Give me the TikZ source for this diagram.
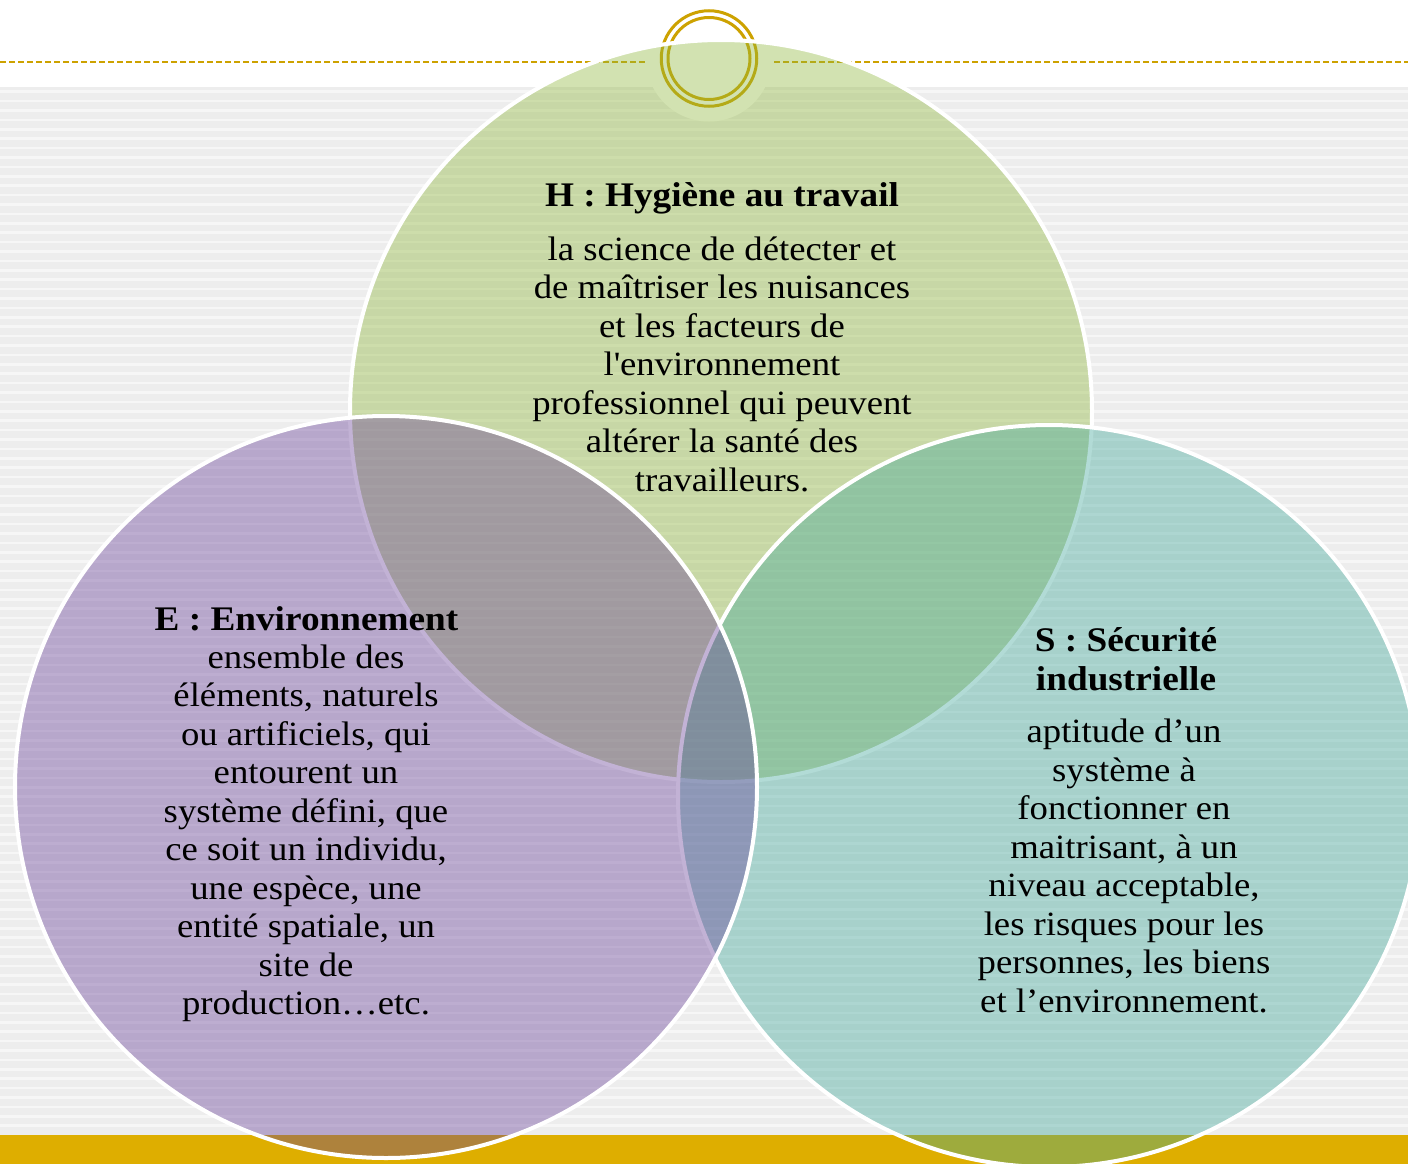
\documentclass[tikz,border=0pt]{standalone}
\usepackage{fontspec}
\setmainfont[FakeStretch=1.08]{Liberation Serif}
\definecolor{bggray}{RGB}{237,237,237}
\definecolor{bgline}{RGB}{246,246,246}
\definecolor{goldbar}{RGB}{222,174,0}
\definecolor{goldline}{RGB}{205,162,0}
\definecolor{hgreen}{RGB}{144,184,60}
\definecolor{epurple}{RGB}{104,64,152}
\definecolor{steal}{RGB}{64,167,154}
\begin{document}
\begin{tikzpicture}[x=1pt,y=-1pt,
  venn/.style={circle, inner sep=0pt, minimum size=742pt, draw=white, line width=4pt, fill opacity=0.4},
  ringst/.style={circle, inner sep=0pt, draw=goldline, line width=3pt},
  ttl/.style={font=\fontsize{34.5}{38.5}\selectfont\bfseries, align=center, anchor=base, inner sep=0pt},
  body/.style={font=\fontsize{34}{38.5}\selectfont, align=center, anchor=base, inner sep=0pt},
]
\useasboundingbox (0,0) rectangle (1408,1164);
\fill[white] (0,0) rectangle (1408,1164);
\fill[bggray] (0,86.7) rectangle (1408,1135);
\foreach \k in {0,...,110} \draw[bgline, line width=2.5pt] (0,{91.7+9.4*\k}) -- (1408,{91.7+9.4*\k});
\fill[goldbar] (0,1135) rectangle (1408,1164);
\draw[goldline, line width=2.2pt, dash pattern=on 6pt off 3pt] (0,61.7) -- (1408,61.7);
\node[circle, fill=white, minimum size=126pt, inner sep=0pt] (halo) at (709,58.5) {};
\node[ringst, minimum size=95.5pt] (ringout) at (709,58.5) {};
\node[ringst, minimum size=82pt] (ringin) at (709,58.5) {};
% circles
\node[venn, fill=hgreen] (H) at (721,411) {};
\node[venn, fill=steal] (S) at (1049,796) {};
\node[venn, fill=epurple] (E) at (386,787) {};
% texts (anchor = baseline of the last line)
\node[ttl] (Ht) at (722,206.7) {H : Hygiène au travail};
\node[body] (Hb) at (722,491) {la science de détecter et\\de maîtriser les nuisances\\et les facteurs de\\l\textquotesingle environnement\\professionnel qui peuvent\\altérer la santé des\\travailleurs.};
\node[ttl] (Et) at (306.5,630) {E : Environnement};
\node[body] (Eb) at (306,1014.8) {ensemble des\\éléments, naturels\\ou artificiels, qui\\entourent un\\système défini, que\\ce soit un individu,\\une espèce, une\\entité spatiale, un\\site de\\production…etc.};
\node[ttl] (St) at (1126,690.2) {S : Sécurité\\industrielle};
\node[body] (Sb) at (1124,1012.2) {aptitude d’un\\système à\\fonctionner en\\maitrisant, à un\\niveau acceptable,\\les risques pour les\\personnes, les biens\\et l’environnement.};
\end{tikzpicture}
\end{document}
